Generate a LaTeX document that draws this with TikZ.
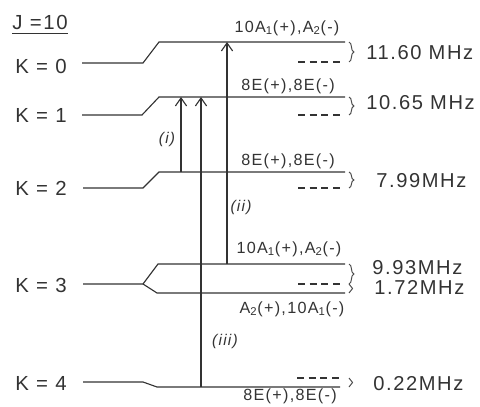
\documentclass[tikz,border=0pt]{standalone}
\usepackage{fontspec}
\setmainfont{Liberation Sans}[LetterSpace=8]
\usetikzlibrary{arrows.meta,decorations.pathreplacing}
\tikzset{
  level/.style={line width=0.8pt,black!80},
  dashlev/.style={line width=0.8pt,black!80,dash pattern=on 5pt off 3.3pt},
  trans/.style={line width=0.8pt,black!80,-{Straight Barb[length=2mm,width=2.8mm]}},
  brc/.style={decorate,decoration={brace,amplitude=3.5pt},line width=0.7pt,black!70},
  klab/.style={font=\fontsize{14.5}{16}\selectfont,text=black!80,inner sep=0pt},
  mhz/.style={font=\fontsize{14.3}{16}\selectfont,text=black!80,anchor=west,inner sep=0pt},
  sym/.style={font=\fontsize{11.5}{13}\selectfont,text=black!80,inner sep=0pt},
  rom/.style={font=\fontsize{11}{13}\selectfont\itshape,text=black!80,inner sep=0pt},
}

\begin{document}
\begin{tikzpicture}[x=0.025cm,y=-0.025cm]
  \useasboundingbox (0,0) rectangle (480,407);
  % K labels
  \node[klab] (j) at (40,22) {J =10};
  \draw[level] ([yshift=-3pt]j.south west) -- ([yshift=-3pt]j.south east);
  \node[klab] (k0) at (41,66) {K = 0};
  \node[klab] (k1) at (41,115) {K = 1};
  \node[klab] (k2) at (41,188) {K = 2};
  \node[klab] (k3) at (41,285) {K = 3};
  \node[klab] (k4) at (41,383) {K = 4};
  \coordinate (bx) at (349,0);
  % K = 0
  \coordinate (a0) at (82,63); \coordinate (b0) at (143,63);
  \coordinate (c0) at (159,42); \coordinate (d0) at (345,42);
  \coordinate (u0) at (298,62); \coordinate (v0) at (342,62);
  \draw[level] (a0) -- (b0) -- (c0) -- (d0);
  \draw[dashlev] (u0) -- (v0);
  \draw[brc] (d0 -| bx) -- (v0 -| bx);
  \node[sym] (s0) at (287,28) {10A\textsubscript{1}(+),A\textsubscript{2}(-)};
  \node[mhz] (f0) at (366,53) {11.60 MHz};
  % K = 1
  \coordinate (a1) at (82,115); \coordinate (b1) at (142,115);
  \coordinate (c1) at (159,97); \coordinate (d1) at (345,97);
  \coordinate (u1) at (298,115); \coordinate (v1) at (342,115);
  \draw[level] (a1) -- (b1) -- (c1) -- (d1);
  \draw[dashlev] (u1) -- (v1);
  \draw[brc] (d1 -| bx) -- (v1 -| bx);
  \node[sym] (s1) at (288,86) {8E(+),8E(-)};
  \node[mhz] (f1) at (366,103) {10.65 MHz};
  % K = 2
  \coordinate (a2) at (83,188); \coordinate (b2) at (143,188);
  \coordinate (c2) at (159,172); \coordinate (d2) at (345,172);
  \coordinate (u2) at (298,188); \coordinate (v2) at (342,188);
  \draw[level] (a2) -- (b2) -- (c2) -- (d2);
  \draw[dashlev] (u2) -- (v2);
  \draw[brc] (d2 -| bx) -- (v2 -| bx);
  \node[sym] (s2) at (288,161) {8E(+),8E(-)};
  \node[mhz] (f2) at (376,181) {7.99MHz};
  % K = 3
  \coordinate (a3) at (83,284); \coordinate (b3) at (143,284);
  \coordinate (c3) at (158,264); \coordinate (d3) at (345,264);
  \coordinate (g3) at (157,293); \coordinate (h3) at (345,293);
  \coordinate (u3) at (298,284); \coordinate (v3) at (342,284);
  \draw[level] (a3) -- (b3) -- (c3) -- (d3);
  \draw[level] (b3) -- (g3) -- (h3);
  \draw[dashlev] (u3) -- (v3);
  \draw[brc] (d3 -| bx) -- (v3 -| bx);
  \draw[brc,decoration={amplitude=2.5pt}] (v3 -| bx) -- (h3 -| bx);
  \node[sym] (s3) at (289,249) {10A\textsubscript{1}(+),A\textsubscript{2}(-)};
  \node[sym] (t3) at (292,309) {A\textsubscript{2}(+),10A\textsubscript{1}(-)};
  \node[mhz] (f3) at (372,268) {9.93MHz};
  \node[mhz] (g3l) at (374,287) {1.72MHz};
  % K = 4
  \coordinate (a4) at (83,382); \coordinate (b4) at (143,382);
  \coordinate (c4) at (157,387); \coordinate (d4) at (340,387);
  \coordinate (u4) at (297,378); \coordinate (v4) at (340,378);
  \draw[level] (a4) -- (b4) -- (c4) -- (d4);
  \draw[dashlev] (u4) -- (v4);
  \draw[brc,decoration={amplitude=2.5pt}] (v4 -| bx) -- (d4 -| bx);
  \node[sym] (s4) at (290,396) {8E(+),8E(-)};
  \node[mhz] (f4) at (373,384) {0.22MHz};
  % transitions
  \coordinate (xi) at (181,0); \coordinate (xiii) at (201,0); \coordinate (xii) at (227,0);
  \draw[trans] (xi |- d2) -- (xi |- d1);
  \draw[trans] (xiii |- d4) -- (xiii |- d1);
  \draw[trans] (xii |- d3) -- (xii |- d0);
  \node[rom] (ri) at (167,139) {(i)};
  \node[rom] (rii) at (241,207) {(ii)};
  \node[rom] (riii) at (225,341) {(iii)};
\end{tikzpicture}
\end{document}
